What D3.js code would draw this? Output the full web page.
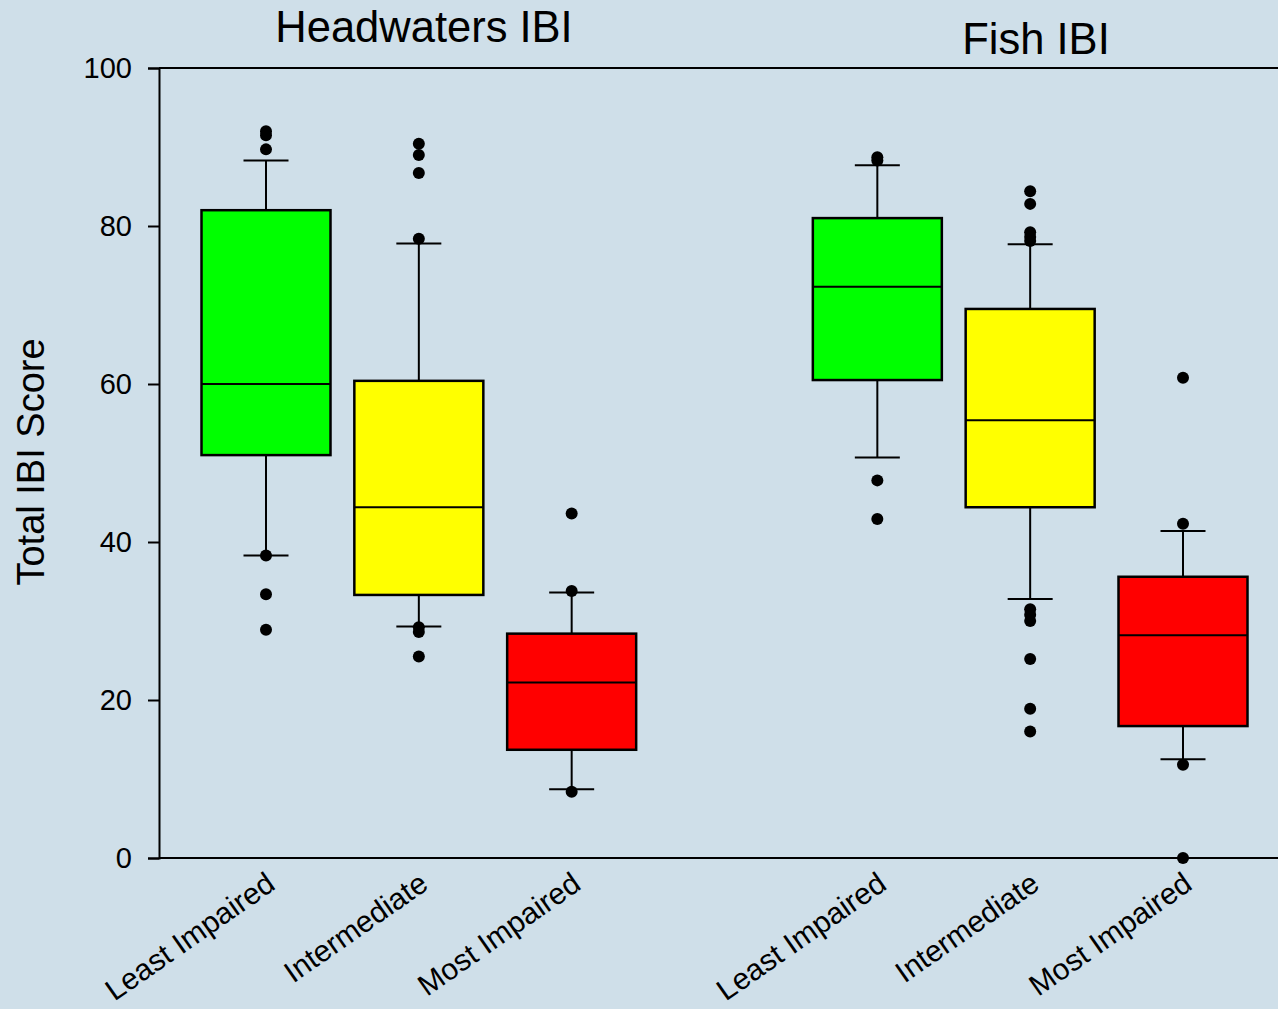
<!DOCTYPE html>
<html>
<head>
<meta charset="utf-8">
<script src="https://cdn.jsdelivr.net/npm/d3@7"></script>
<style>
  html, body { margin: 0; padding: 0; background: #cfdfe9; }
  svg { display: block; font-family: "Liberation Sans", Arial, sans-serif; }
</style>
</head>
<body>
<svg id="chart" width="1278" height="1009"></svg>
<script>
// Box plot of total IBI scores by impairment class, for two indices
const panels = ["Headwaters IBI", "Fish IBI"];
const categories = ["Least Impaired", "Intermediate", "Most Impaired",
                    "Least Impaired", "Intermediate", "Most Impaired"];
const slots = [0, 1, 2, 4, 5, 6];
const fills = ["#00ff00", "#ffff00", "#ff0000", "#00ff00", "#ffff00", "#ff0000"];

const lowerWhisker = [38.3, 29.3, 8.7, 50.7, 32.8, 12.5];
const q1 = [51.0, 33.3, 13.7, 60.5, 44.4, 16.7];
const median = [60.0, 44.4, 22.2, 72.3, 55.4, 28.2];
const q3 = [82.0, 60.4, 28.4, 81.0, 69.5, 35.6];
const upperWhisker = [88.3, 77.8, 33.6, 87.7, 77.7, 41.4];
const outliers = [
  [92.0, 91.5, 89.7, 38.3, 33.4, 28.9],
  [90.4, 89.0, 86.7, 78.4, 29.2, 28.6, 25.5],
  [43.6, 33.8, 8.4],
  [88.7, 88.3, 47.8, 42.9],
  [84.4, 82.8, 79.2, 78.6, 78.1, 31.5, 30.8, 30.0, 25.2, 18.9, 16.0],
  [60.8, 42.3, 11.8, 0.0]
];
const yTicks = [0, 20, 40, 60, 80, 100];
const yTitle = "Total IBI Score";

const svg = d3.select("#chart");
const W = 1278;

const y = d3.scaleLinear().domain([0, 100]).range([858, 68]);
const x = d3.scaleLinear().domain([0, 6]).range([266, 1183]);
const boxW = 129, capW = 45;
const axisX = 159;

// frame: left axis, top and bottom lines
svg.append("line").attr("x1", axisX).attr("x2", W).attr("y1", y(100)).attr("y2", y(100))
  .attr("stroke", "#000").attr("stroke-width", 2);
svg.append("line").attr("x1", axisX).attr("x2", W).attr("y1", y(0)).attr("y2", y(0))
  .attr("stroke", "#000").attr("stroke-width", 2);

const yAxis = d3.axisLeft(y).tickValues(yTicks).tickSize(11).tickPadding(16).tickFormat(d3.format("d"));
const gy = svg.append("g").attr("transform", `translate(${axisX},0)`).call(yAxis);
gy.select(".domain").attr("stroke", "#000").attr("stroke-width", 2);
gy.selectAll(".tick line").attr("stroke", "#000").attr("stroke-width", 2);
gy.selectAll(".tick text").attr("font-size", 29).attr("fill", "#000")
  .attr("font-family", "Liberation Sans, Arial, sans-serif");

svg.append("text")
  .attr("transform", `translate(44,462) rotate(-90)`)
  .attr("text-anchor", "middle")
  .attr("font-size", 38)
  .text(yTitle);

// panel titles
const titlePos = [[424, 42], [1036, 54]];
svg.selectAll("text.panel").data(panels).join("text")
  .attr("class", "panel")
  .attr("x", (d, i) => titlePos[i][0])
  .attr("y", (d, i) => titlePos[i][1])
  .attr("text-anchor", "middle")
  .attr("font-size", 43.5)
  .text(d => d);

// boxes
const data = categories.map((c, i) => ({
  c, i, cx: x(slots[i]), lw: lowerWhisker[i], q1: q1[i], med: median[i],
  q3: q3[i], uw: upperWhisker[i], out: outliers[i], fill: fills[i]
}));

const g = svg.selectAll("g.box").data(data).join("g").attr("class", "box");

g.append("line").attr("x1", d => d.cx).attr("x2", d => d.cx)
  .attr("y1", d => y(d.uw)).attr("y2", d => y(d.q3)).attr("stroke", "#000").attr("stroke-width", 2);
g.append("line").attr("x1", d => d.cx).attr("x2", d => d.cx)
  .attr("y1", d => y(d.q1)).attr("y2", d => y(d.lw)).attr("stroke", "#000").attr("stroke-width", 2);
g.append("line").attr("x1", d => d.cx - capW / 2).attr("x2", d => d.cx + capW / 2)
  .attr("y1", d => y(d.uw)).attr("y2", d => y(d.uw)).attr("stroke", "#000").attr("stroke-width", 2);
g.append("line").attr("x1", d => d.cx - capW / 2).attr("x2", d => d.cx + capW / 2)
  .attr("y1", d => y(d.lw)).attr("y2", d => y(d.lw)).attr("stroke", "#000").attr("stroke-width", 2);

g.append("rect")
  .attr("x", d => d.cx - boxW / 2).attr("width", boxW)
  .attr("y", d => y(d.q3)).attr("height", d => y(d.q1) - y(d.q3))
  .attr("fill", d => d.fill).attr("stroke", "#000").attr("stroke-width", 2.5);
g.append("line").attr("x1", d => d.cx - boxW / 2).attr("x2", d => d.cx + boxW / 2)
  .attr("y1", d => y(d.med)).attr("y2", d => y(d.med)).attr("stroke", "#000").attr("stroke-width", 2);

g.selectAll("circle").data(d => d.out.map(v => ({ v, cx: d.cx }))).join("circle")
  .attr("cx", d => d.cx).attr("cy", d => y(d.v)).attr("r", 6).attr("fill", "#000");

// category labels
svg.selectAll("text.cat").data(data).join("text")
  .attr("class", "cat")
  .attr("transform", d => `translate(${d.cx + 11},${y(0) + 30}) rotate(-35)`)
  .attr("text-anchor", "end")
  .attr("font-size", 30)
  .text(d => d.c);
</script>
</body>
</html>
